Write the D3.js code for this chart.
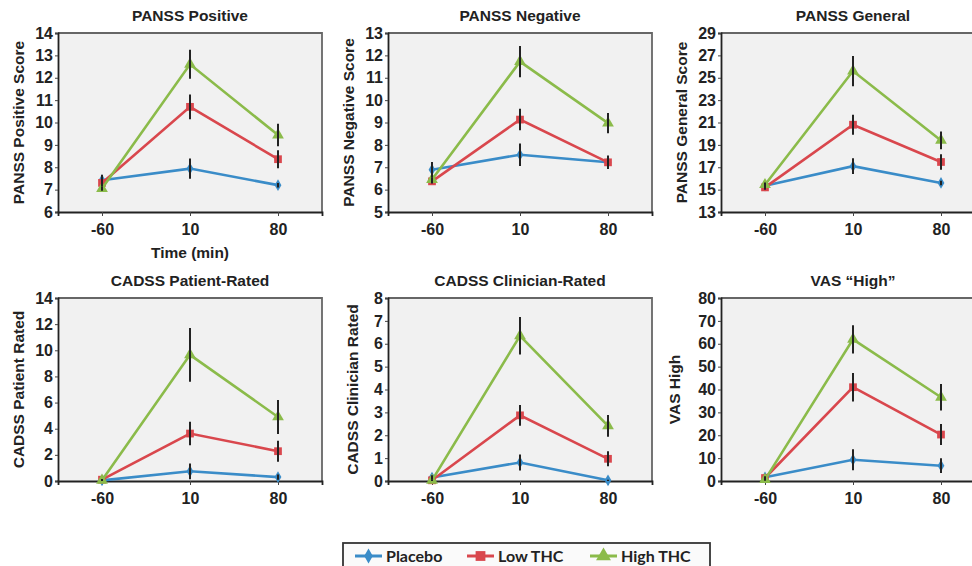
<!DOCTYPE html>
<html><head><meta charset="utf-8">
<script src="https://cdn.jsdelivr.net/npm/d3@7"></script>
<style>
body{margin:0;background:#fff;}
svg{display:block;}
</style></head>
<body>
<svg id="chart" width="972" height="566"></svg>
<script>
const times = ["-60", "10", "80"];
const seriesNames = ["Placebo", "Low THC", "High THC"];
const seriesColors = ["#3a8cc8", "#d9474d", "#8bbb4a"];

const panelTitles = ["PANSS Positive", "PANSS Negative", "PANSS General", "CADSS Patient-Rated", "CADSS Clinician-Rated", "VAS \u201cHigh\u201d"];
const yLabels = ["PANSS Positive Score", "PANSS Negative Score", "PANSS General Score", "CADSS Patient Rated", "CADSS Clinician Rated", "VAS High"];
const yDomains = [[6, 14], [5, 13], [13, 29], [0, 14], [0, 8], [0, 80]];
const yTickValues = [
  [6, 7, 8, 9, 10, 11, 12, 13, 14],
  [5, 6, 7, 8, 9, 10, 11, 12, 13],
  [13, 15, 17, 19, 21, 23, 25, 27, 29],
  [0, 2, 4, 6, 8, 10, 12, 14],
  [0, 1, 2, 3, 4, 5, 6, 7, 8],
  [0, 10, 20, 30, 40, 50, 60, 70, 80]
];

// means per panel: [Placebo, Low THC, High THC] at [-60, 10, 80]
const pansPosMeans = [[7.42, 7.94, 7.2], [7.3, 10.7, 8.36], [7.05, 12.6, 9.44]];
const pansPosErr   = [[0.25, 0.45, 0.1], [0.15, 0.55, 0.4], [0.1, 0.65, 0.5]];
const pansNegMeans = [[6.89, 7.56, 7.22], [6.37, 9.13, 7.22], [6.45, 11.72, 8.97]];
const pansNegErr   = [[0.35, 0.5, 0.15], [0.1, 0.48, 0.3], [0.1, 0.7, 0.45]];
const pansGenMeans = [[15.35, 17.1, 15.6], [15.2, 20.8, 17.47], [15.44, 25.6, 19.4]];
const pansGenErr   = [[0.2, 0.7, 0.2], [0.2, 0.9, 0.7], [0.2, 1.35, 0.8]];
const cadssPatMeans = [[0.05, 0.74, 0.3], [0.1, 3.63, 2.28], [0.05, 9.65, 4.9]];
const cadssPatErr   = [[0.05, 0.6, 0.2], [0.05, 0.9, 0.8], [0.05, 2.05, 1.3]];
const cadssClinMeans = [[0.15, 0.81, 0.03], [0.03, 2.87, 0.97], [0.03, 6.35, 2.41]];
const cadssClinErr   = [[0.1, 0.35, 0.03], [0.03, 0.45, 0.33], [0.03, 0.82, 0.48]];
const vasMeans = [[1.6, 9.3, 6.7], [1.3, 41, 20.3], [0.6, 61.9, 36.6]];
const vasErr   = [[0.5, 4.6, 3.2], [0.5, 6.2, 4.6], [0.5, 6.2, 5.8]];

const allMeans = [pansPosMeans, pansNegMeans, pansGenMeans, cadssPatMeans, cadssClinMeans, vasMeans];
const allErr = [pansPosErr, pansNegErr, pansGenErr, cadssPatErr, cadssClinErr, vasErr];

const FONT = "'Liberation Sans', Arial, Helvetica, sans-serif";
const svg = d3.select("#chart");
const colLefts = [58, 388, 721];
const rowTops = [33, 298];
const plotW = 264, plotH = [179, 183];
const yLabelX = [[24, 354, 687], [24, 358, 680]];

const symbols = [d3.symbolDiamond, d3.symbolSquare, d3.symbolTriangle];
const symSizes = [40, 60, 60];

for (let p = 0; p < 6; p++) {
  const row = Math.floor(p / 3), col = p % 3;
  const left = colLefts[col], top = rowTops[row], h = plotH[row];
  const g = svg.append("g");
  const x = d3.scalePoint().domain(times).range([left, left + plotW]).padding(0.5);
  const y = d3.scaleLinear().domain(yDomains[p]).range([top + h, top]);

  g.append("rect").attr("x", left).attr("y", top).attr("width", plotW).attr("height", h)
    .attr("fill", "#f1f1f1").attr("stroke", "none");
  g.append("path").attr("d", `M${left},${top}H${left + plotW}V${top + h}`)
    .attr("fill", "none").attr("stroke", "#666").attr("stroke-width", 1.8);

  const yAxis = d3.axisLeft(y).tickValues(yTickValues[p]).tickSize(3).tickPadding(2).tickFormat(d3.format("d"));
  const ya = g.append("g").attr("transform", `translate(${left},0)`).call(yAxis);
  const xAxis = d3.axisBottom(x).tickSize(4).tickPadding(8);
  const xa = g.append("g").attr("transform", `translate(0,${top + h})`).call(xAxis);
  [ya, xa].forEach(a => {
    a.attr("font-family", FONT).attr("font-size", 16);
    a.select(".domain").attr("stroke", "#222").attr("stroke-width", 1.8);
    a.selectAll(".tick line").attr("stroke", "#444").attr("stroke-width", 1);
    a.selectAll("text").attr("font-size", 16).attr("font-weight", "bold").attr("fill", "#222")
      .attr("font-family", FONT);
  });

  g.append("text").attr("x", left + 132).attr("y", top - 12).attr("text-anchor", "middle")
    .attr("font-family", FONT).attr("font-size", 15.5).attr("font-weight", "bold").attr("fill", "#222")
    .text(panelTitles[p]);
  g.append("text").attr("transform", `translate(${yLabelX[row][col]},${top + h / 2}) rotate(-90)`)
    .attr("text-anchor", "middle").attr("font-family", FONT).attr("font-size", 15.5)
    .attr("font-weight", "bold").attr("fill", "#222")
    .text(yLabels[p]);

  const means = allMeans[p], errs = allErr[p];
  for (let s = 0; s < 3; s++) {
    const pts = times.map((t, i) => ({t, v: means[s][i], e: errs[s][i]}));
    g.append("path").datum(pts)
      .attr("d", d3.line().x(d => x(d.t)).y(d => y(d.v)))
      .attr("fill", "none").attr("stroke", seriesColors[s]).attr("stroke-width", 2.6);
    g.selectAll(null).data(pts).enter().append("path")
      .attr("transform", d => `translate(${x(d.t)},${y(d.v)})`)
      .attr("d", d3.symbol().type(symbols[s]).size(symSizes[s]))
      .attr("fill", seriesColors[s]);
  }
  for (let s = 0; s < 3; s++) {
    const pts = times.map((t, i) => ({t, v: means[s][i], e: errs[s][i]}));
    g.selectAll(null).data(pts).enter().append("line")
      .attr("x1", d => x(d.t)).attr("x2", d => x(d.t))
      .attr("y1", d => y(d.v - d.e)).attr("y2", d => y(d.v + d.e))
      .attr("stroke", "#222").attr("stroke-width", 2);
  }
}

svg.append("text").attr("x", 190).attr("y", 258).attr("text-anchor", "middle")
  .attr("font-family", FONT).attr("font-size", 15.5).attr("font-weight", "bold").attr("fill", "#222")
  .text("Time (min)");

const lg = svg.append("g");
lg.append("rect").attr("x", 343).attr("y", 543).attr("width", 367).attr("height", 30)
  .attr("fill", "#fafafa").attr("stroke", "#333").attr("stroke-width", 1.8);
const legX = [355, 467, 590];
seriesNames.forEach((n, s) => {
  lg.append("line").attr("x1", legX[s]).attr("x2", legX[s] + 27).attr("y1", 556).attr("y2", 556)
    .attr("stroke", seriesColors[s]).attr("stroke-width", 3);
  lg.append("path").attr("transform", `translate(${legX[s] + 13.5},556)`)
    .attr("d", d3.symbol().type(symbols[s]).size(symSizes[s] * 1.6)).attr("fill", seriesColors[s]);
  lg.append("text").attr("x", legX[s] + 31).attr("y", 561.5)
    .attr("font-family", "Lato, 'Open Sans', sans-serif").attr("font-weight", "bold")
    .attr("font-size", 16).attr("fill", "#222").text(n);
});
</script>
</body></html>
